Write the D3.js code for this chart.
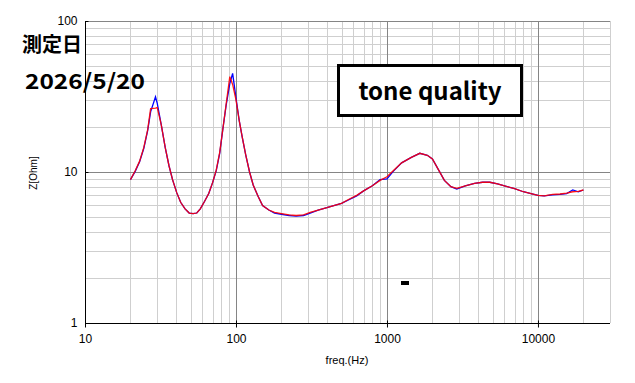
<!DOCTYPE html>
<html><head><meta charset="utf-8">
<script src="https://cdn.jsdelivr.net/npm/d3@7"></script>
<style>body{margin:0;background:#fff}svg{display:block}</style>
</head><body><svg id="c" width="635" height="383"></svg>
<script>
const freqs = [20,21.5,23,24.5,26,27.2,29.3,30.1,32,34,36,38,40.5,43,46,49,52,55,58,62,66,70,74,78,82,86,91,95,100,105,110,116,123,130,140,150,165,180,200,225,250,280,310,350,400,450,500,560,630,700,800,900,1000,1100,1250,1450,1650,1850,2000,2200,2400,2650,2900,3300,3800,4300,4800,5400,6000,7000,8000,9000,10000,11000,12500,14000,15500,17000,18500,20000];
const blueZ = [8.9,10.1,11.7,14.3,18.8,25.0,31.5,28.5,20.5,14.5,11,8.9,7.3,6.3,5.7,5.35,5.3,5.35,5.7,6.4,7.2,8.5,10.2,13.3,19.5,27.5,38.5,45,31,22,17,13,10,8.2,6.9,6.0,5.6,5.35,5.25,5.15,5.1,5.15,5.35,5.6,5.8,6.0,6.2,6.55,6.95,7.5,8.1,8.9,9.0,10.1,11.5,12.5,13.3,12.9,12.2,10.3,8.8,8.0,7.7,8.1,8.4,8.55,8.55,8.35,8.1,7.75,7.4,7.2,7.0,6.95,7.05,7.1,7.2,7.6,7.4,7.6];
const redZ = [8.9,10.2,11.8,14.5,19.0,26.3,26.5,26.7,20.5,14.5,11,8.9,7.3,6.3,5.7,5.35,5.3,5.35,5.7,6.4,7.2,8.5,10.3,13.5,19.5,28,42.8,38,30,22,17,13,10,8.2,6.9,6.0,5.6,5.4,5.3,5.2,5.15,5.2,5.4,5.6,5.8,6.0,6.2,6.6,7.0,7.5,8.1,8.8,9.3,10.2,11.5,12.5,13.3,12.9,12.2,10.3,8.8,8.0,7.8,8.1,8.4,8.55,8.55,8.35,8.1,7.75,7.4,7.2,7.0,6.95,7.1,7.15,7.25,7.4,7.45,7.6];
const xTicks = [10,100,1000,10000];
const yTicks = [1,10,100];
const title1 = "測定日", title2 = "2026/5/20", boxLabel = "tone quality";
const xLabel = "freq.(Hz)", yLabel = "Z[Ohm]";

const svg = d3.select("#c");
const L=85, R=610, T=21, B=323;
const x = d3.scaleLog().domain([10,30000]).range([L,R]);
const y = d3.scaleLog().domain([1,100]).range([B,T]);
const g = svg.append("g");

// minor grid
const xMinor = [], yMinor=[];
[10,100,1000,10000].forEach(d=>{for(let k=2;k<=9;k++){const v=d*k; if(v<=30000) xMinor.push(v);}});
xMinor.push(30000);
[1,10].forEach(d=>{for(let k=2;k<=9;k++) yMinor.push(d*k);});
g.selectAll(".xm").data(xMinor).join("line").attr("x1",d=>Math.round(x(d))+0.5).attr("x2",d=>Math.round(x(d))+0.5).attr("y1",T).attr("y2",B).attr("stroke","#cfcfcf").attr("stroke-width",1);
g.selectAll(".ym").data(yMinor).join("line").attr("y1",d=>Math.round(y(d))+0.5).attr("y2",d=>Math.round(y(d))+0.5).attr("x1",L).attr("x2",R).attr("stroke","#cfcfcf");
// major grid
g.selectAll(".xM").data([100,1000,10000]).join("line").attr("x1",d=>Math.round(x(d))+0.5).attr("x2",d=>Math.round(x(d))+0.5).attr("y1",T).attr("y2",B).attr("stroke","#858585");
g.selectAll(".yM").data([10,100]).join("line").attr("y1",d=>Math.round(y(d))+0.5).attr("y2",d=>Math.round(y(d))+0.5).attr("x1",L).attr("x2",R).attr("stroke","#858585");

// axes
const xAxis = d3.axisBottom(x).tickValues(xTicks).tickFormat(d3.format("d")).tickSizeInner(4).tickSizeOuter(0);
const ax = svg.append("g").attr("transform",`translate(0,${B+0.5})`).call(xAxis);
ax.select(".domain").attr("d",`M${L},0H${R}`).attr("stroke","#000");
ax.selectAll(".tick line").attr("y1",-3).attr("stroke","#000");
ax.selectAll("text").attr("font-family","Liberation Sans, Arial, sans-serif").attr("font-size",12).attr("fill","#000").attr("dy","1.05em");
const yAxis = d3.axisLeft(y).tickValues(yTicks).tickFormat(d3.format("d")).tickSizeInner(5).tickSizeOuter(0);
const ay = svg.append("g").attr("transform",`translate(${L+0.5},0)`).call(yAxis);
ay.select(".domain").attr("d",`M0,${T}V${B+3}`).attr("stroke","#000");
ay.selectAll(".tick line").attr("x2",3).attr("stroke","#000");
ay.selectAll("text").attr("font-family","Liberation Sans, Arial, sans-serif").attr("font-size",12).attr("fill","#000").attr("x",-8);

// series
const line = d3.line().x((d,i)=>x(freqs[i])).y(d=>y(d));
svg.append("path").attr("d",line(blueZ)).attr("fill","none").attr("stroke","#0000ff").attr("stroke-width",1.3);
svg.append("path").attr("d",line(redZ)).attr("fill","none").attr("stroke","#ff0000").attr("stroke-width",1.3).attr("opacity",0.9);

// labels
svg.append("text").attr("x",347).attr("y",364).attr("text-anchor","middle").attr("font-family","Liberation Sans, Arial, sans-serif").attr("font-size",11).text(xLabel);
svg.append("text").attr("transform","translate(37,173) rotate(-90)").attr("text-anchor","middle").attr("font-family","Liberation Sans, Arial, sans-serif").attr("font-size",10).text(yLabel);

svg.append("text").attr("x",22).attr("y",52).attr("font-family","Noto Sans CJK JP").attr("font-weight","bold").attr("font-size",20).text(title1);
svg.append("text").attr("x",25).attr("y",89).attr("font-family","Noto Sans CJK JP").attr("font-weight","bold").attr("font-size",21).attr("textLength",120).attr("lengthAdjust","spacingAndGlyphs").text(title2);

svg.append("rect").attr("x",338.5).attr("y",65.5).attr("width",183).attr("height",50).attr("fill","#fff").attr("stroke","#000").attr("stroke-width",3);
svg.append("text").attr("x",430).attr("y",100).attr("text-anchor","middle").attr("font-family","Noto Sans CJK JP").attr("font-weight","bold").attr("font-size",24).text(boxLabel);

svg.append("rect").attr("x",401).attr("y",281).attr("width",8).attr("height",4).attr("fill","#000");
</script></body></html>
